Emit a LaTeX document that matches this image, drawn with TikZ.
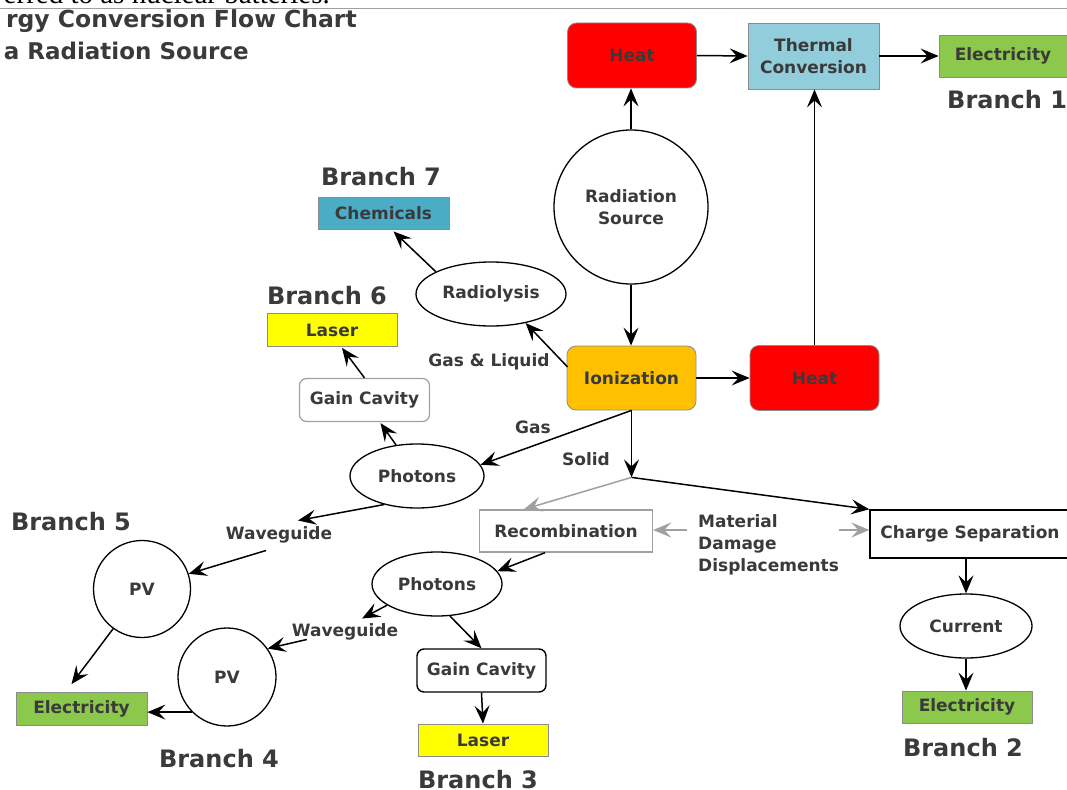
\documentclass[tikz,border=0pt]{standalone}
\usepackage{fontspec}
\setmainfont{DejaVu Sans}
\newfontfamily\serifweb{Liberation Serif}
\usetikzlibrary{shapes.geometric,arrows.meta,calc}
\definecolor{txt}{HTML}{3A3A3A}
\definecolor{hred}{HTML}{FF0000}
\definecolor{tblue}{HTML}{92CDDC}
\definecolor{egreen}{HTML}{8CC84B}
\definecolor{lyellow}{HTML}{FFFF00}
\definecolor{iorange}{HTML}{FFC000}
\definecolor{cteal}{HTML}{4BACC6}
\definecolor{bgray}{HTML}{8C8C8C}
\definecolor{lgray}{HTML}{A0A0A0}
\begin{document}
\begin{tikzpicture}[x=1pt,y=-1pt,
  every node/.style={text=txt, font=\fontsize{17}{22}\selectfont\bfseries, inner sep=0pt},
  fbox/.style={rectangle, draw=bgray, line width=0.8pt},
  rbox/.style={rectangle, rounded corners=9pt, draw=bgray, line width=0.8pt},
  oval/.style={ellipse, draw=black, line width=1.3pt},
  circ/.style={circle, draw=black, line width=1.3pt},
  arr/.style={draw=black, line width=1.5pt, -{Stealth[length=18pt,width=15pt,inset=7pt]}},
  garr/.style={arr, draw=lgray},
  branch/.style={font=\fontsize{24}{28}\selectfont\bfseries}]
\useasboundingbox[fill=white] (0,0) rectangle (1067,789);

% header remnants
\node[font=\serifweb\fontsize{29}{32}\selectfont, text=black, anchor=base east] (web) at (330,4) {erred to as nuclear batteries.};
\draw[lgray, line width=1pt] (0,9) -- (1067,9);
\node[font=\fontsize{23.5}{28}\selectfont\bfseries, anchor=base east] (t1) at (357,28) {rgy Conversion Flow Chart};
\node[font=\fontsize{23}{28}\selectfont\bfseries, anchor=base east] (t2) at (249,60) {a Radiation Source};

% main nodes
\node[rbox, fill=hred, minimum width=129, minimum height=65] (heat1) at (632,55.5) {Heat};
\node[fbox, fill=tblue, minimum width=131, minimum height=66, align=center] (thermal) at (813.5,56) {Thermal\\Conversion};
\node[fbox, fill=egreen, minimum width=128, minimum height=42] (elec1) at (1003,56) {Electricity};
\node[circ, minimum size=154, align=center] (rad) at (631,207) {Radiation\\Source};
\node[rbox, fill=iorange, minimum width=129, minimum height=64] (ion) at (631.5,378) {Ionization};
\node[rbox, fill=hred, minimum width=129, minimum height=65] (heat2) at (814.5,378) {Heat};
\node[oval, minimum width=150, minimum height=64] (radio) at (491,294) {Radiolysis};
\node[fbox, fill=cteal, minimum width=131, minimum height=32] (chem) at (383.5,213) {Chemicals};
\node[fbox, fill=lyellow, minimum width=130, minimum height=33] (laser6) at (332,330) {Laser};
\node[rbox, draw=lgray, line width=1.2pt, rounded corners=7pt, minimum width=130, minimum height=43] (gain6) at (364.5,400) {Gain Cavity};
\node[oval, minimum width=134, minimum height=64] (photon1) at (417,476) {Photons};
\node[fbox, draw=lgray, line width=1.4pt, minimum width=173, minimum height=42] (recomb) at (566,531) {Recombination};
\node[rectangle, draw=black, line width=1.4pt, minimum width=200, minimum height=48] (cs) at (970,534) {Charge Separation};
\node[oval, minimum width=132, minimum height=64] (current) at (966,626) {Current};
\node[fbox, fill=egreen, minimum width=130, minimum height=32] (elec2) at (967,707) {Electricity};
\node[oval, minimum width=130, minimum height=64] (photon2) at (437,584) {Photons};
\node[rbox, draw=black, line width=1.4pt, rounded corners=7pt, minimum width=129, minimum height=43] (gain3) at (481.5,670.5) {Gain Cavity};
\node[fbox, fill=lyellow, minimum width=130, minimum height=32] (laser3) at (483,740) {Laser};
\node[circ, minimum size=98] (pv4) at (227,677) {PV};
\node[fbox, fill=egreen, minimum width=131, minimum height=33] (elec4) at (81.5,709) {Electricity};
\node[circ, minimum size=97] (pv5) at (142,589) {PV};

% labels
\node[branch, anchor=west] (b1) at (947,100) {Branch 1};
\node[branch] (b2) at (963,748) {Branch 2};
\node[branch] (b3) at (478,780) {Branch 3};
\node[branch] (b4) at (219,759) {Branch 4};
\node[branch] (b5) at (71,522) {Branch 5};
\node[branch] (b6) at (327,296) {Branch 6};
\node[branch] (b7) at (381,177) {Branch 7};
\node (gl) at (489,362) {Gas \& Liquid};
\node (gas) at (533,427) {Gas};
\node (solid) at (586,459) {Solid};
\node (wg1) at (279,535) {Waveguide};
\node (wg2) at (345,632) {Waveguide};
\node[align=left, anchor=west] (mat) at (698,545) {Material\\Damage\\Displacements};

% connectors
\draw[arr] (rad.north) -- (rad.north |- heat1.south);
\draw[arr] (heat1.east) -- (thermal.west);
\draw[arr] (thermal.east) -- (elec1.west);
\draw[arr] (rad.south) -- (rad.south |- ion.north);
\draw[arr] (ion.east) -- (heat2.west);
\draw[arr] (heat2.north) -- (heat2.north |- thermal.south);
\draw[arr] ($(ion.west)+(1,-11)$) -- (radio.-40);
\draw[arr] (radio.158) -- ($(chem.south)+(10,2)$);
\draw[arr] (gain6.north) -- ($(laser6.south)+(10,1)$);
\draw[arr] (photon1.124) -- ($(gain6.south)+(16,1)$);
\draw[arr] (ion.south) -- (photon1.10);
\coordinate (J) at ($(ion.south)+(0,67)$);
\draw[arr] (ion.south) -- (J);
\draw[arr] (J) -- (cs.north west);
\draw[garr] (J) -- ($(recomb.north west)+(45,0)$);
\draw[arr] (photon1.-139) -- ($(wg1.north)+(19,-6)$);
\draw[arr] ($(wg1.south)+(-13,7)$) -- (pv5.18);
\draw[arr] (pv5.-126) -- ($(elec4.north)+(-10,-8)$);
\draw[arr] ($(recomb.south)+(-21,0)$) -- (photon2.12);
\draw[arr] (photon2.-157) -- ($(wg2.north)+(17,-5)$);
\draw[arr] ($(wg2.south west)+(15,-1)$) -- (pv4.35);
\draw[arr] (pv4.-135) -- (pv4.-135 -| elec4.east);
\draw[arr] (photon2.-68) -- (gain3.north);
\draw[arr] (gain3.south) -- (laser3.north);
\draw[arr] (current.north |- cs.south) -- (current.north);
\draw[arr] (current.south) -- (current.south |- elec2.north);
\coordinate (mL) at (687,530);
\coordinate (mR) at (839,530);
\draw[garr] (mL) -- (mL -| recomb.east);
\draw[garr] (mR) -- (mR -| cs.west);
\end{tikzpicture}
\end{document}
